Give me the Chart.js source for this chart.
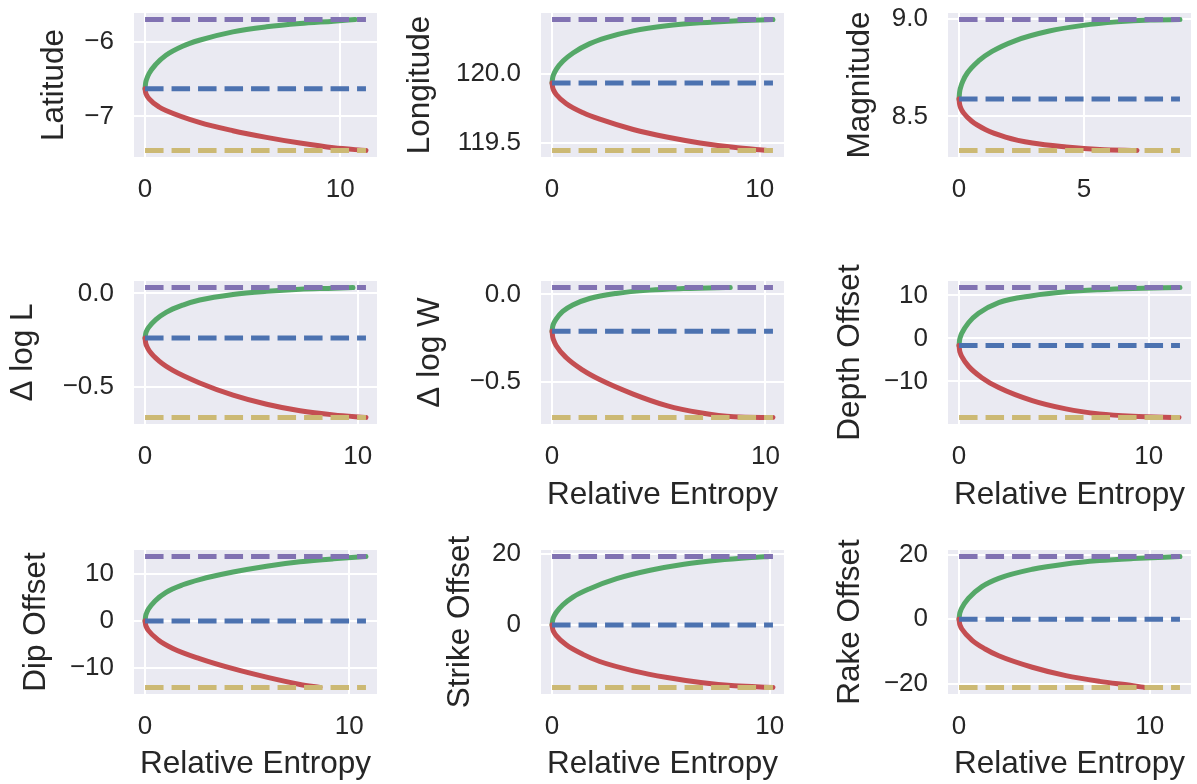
<!DOCTYPE html>
<html>
<head>
<meta charset="utf-8">
<title>Parameter bounds vs relative entropy</title>
<script src="https://cdn.jsdelivr.net/npm/chart.js@4.4.1/dist/chart.umd.min.js"></script>
<style>
  html, body { margin: 0; padding: 0; background: #fff; }
  #fig { position: relative; width: 1197px; height: 784px; overflow: hidden; }
  #fig canvas { position: absolute; }
</style>
</head>
<body>
<div id="fig"></div>
<script>
/* 3x3 grid: upper / lower bound of each source parameter as a function of
 * relative entropy, with dashed reference lines at the start value and at
 * the two extremes reached by the bound curves. */

// ---------- data ----------
const ENTROPY_TICKS = [0, 10];
const ENTROPY_TICKS_MAG = [0, 5];

// Latitude
const LAT_UP_X   = [0, 0.03, 0.08, 0.21, 0.55, 1.07, 1.92, 2.78, 4.50, 6.22, 7.94, 9.66, 10.77];
const LAT_UP_Y   = [-6.628, -6.550, -6.501, -6.423, -6.302, -6.179, -6.058, -5.978, -5.865, -5.798, -5.753, -5.722, -5.700];
const LAT_DOWN_X = [0, 0.03, 0.08, 0.21, 0.72, 1.07, 2.78, 4.50, 6.22, 7.94, 9.66, 11.32];
const LAT_DOWN_Y = [-6.628, -6.680, -6.713, -6.764, -6.874, -6.921, -7.081, -7.192, -7.281, -7.358, -7.421, -7.457];
const LAT_TICKS  = [-7, -6];

// Longitude
const LON_UP_X   = [0, 0.03, 0.08, 0.21, 0.53, 1.01, 1.82, 2.62, 3.91, 5.52, 7.13, 8.74, 10.64];
const LON_UP_Y   = [119.937, 119.975, 119.999, 120.038, 120.097, 120.156, 120.224, 120.268, 120.317, 120.354, 120.376, 120.390, 120.400];
const LON_DOWN_X = [0, 0.03, 0.08, 0.21, 0.69, 1.50, 2.30, 3.91, 5.52, 7.13, 8.74, 10.35];
const LON_DOWN_Y = [119.937, 119.904, 119.883, 119.851, 119.785, 119.719, 119.672, 119.597, 119.542, 119.499, 119.467, 119.444];
const LON_TICKS  = [119.5, 120.0];

// Magnitude
const MAG_UP_X   = [0, 0.02, 0.07, 0.15, 0.33, 0.78, 1.32, 2.26, 3.61, 4.96, 6.31, 7.65, 8.84];
const MAG_UP_Y   = [8.589, 8.623, 8.652, 8.681, 8.723, 8.785, 8.834, 8.890, 8.939, 8.968, 8.986, 8.996, 8.998];
const MAG_DOWN_X = [0, 0.02, 0.07, 0.18, 0.51, 1.05, 1.86, 2.94, 4.29, 5.63, 7.12];
const MAG_DOWN_Y = [8.589, 8.564, 8.543, 8.518, 8.475, 8.433, 8.394, 8.363, 8.343, 8.330, 8.325];
const MAG_TICKS  = [8.5, 9.0];

// Δ log L
const DLL_UP_X   = [0, 0.03, 0.08, 0.16, 0.52, 0.99, 1.78, 2.57, 4.14, 5.72, 7.29, 8.87, 9.78];
const DLL_UP_Y   = [-0.239, -0.215, -0.199, -0.183, -0.139, -0.101, -0.062, -0.035, -0.005, 0.012, 0.023, 0.028, 0.032];
const DLL_DOWN_X = [0, 0.03, 0.08, 0.20, 0.68, 1.31, 2.57, 4.14, 5.72, 7.29, 8.87, 10.39];
const DLL_DOWN_Y = [-0.239, -0.265, -0.282, -0.307, -0.364, -0.412, -0.479, -0.544, -0.593, -0.628, -0.650, -0.664];
const DLL_TICKS  = [-0.5, 0.0];

// Δ log W
const DLW_UP_X   = [0, 0.03, 0.08, 0.19, 0.50, 0.97, 1.76, 3.01, 4.58, 6.15, 7.72, 8.35];
const DLW_UP_Y   = [-0.211, -0.183, -0.165, -0.141, -0.097, -0.060, -0.023, 0.006, 0.025, 0.034, 0.039, 0.040];
const DLW_DOWN_X = [0, 0.03, 0.08, 0.19, 0.66, 1.44, 2.23, 3.80, 5.37, 6.94, 8.51, 10.35];
const DLW_DOWN_Y = [-0.211, -0.243, -0.263, -0.292, -0.361, -0.433, -0.487, -0.570, -0.636, -0.677, -0.700, -0.704];
const DLW_TICKS  = [-0.5, 0.0];

// Depth offset
const DEP_UP_X   = [0, 0.03, 0.07, 0.14, 0.50, 1.03, 2.09, 3.86, 5.63, 7.40, 9.17, 11.65];
const DEP_UP_Y   = [-1.62, -0.32, 0.36, 1.18, 3.66, 5.85, 8.35, 9.95, 10.85, 11.33, 11.62, 11.85];
const DEP_DOWN_X = [0, 0.03, 0.07, 0.14, 0.50, 1.20, 2.09, 3.86, 5.63, 7.40, 9.17, 11.60];
const DEP_DOWN_Y = [-1.62, -2.81, -3.43, -4.18, -6.46, -9.12, -11.42, -14.46, -16.38, -17.54, -18.08, -18.38];
const DEP_TICKS  = [-10, 0, 10];

// Dip offset
const DIP_UP_X   = [0, 0.03, 0.07, 0.16, 0.49, 1.03, 1.85, 2.67, 4.31, 5.95, 7.59, 9.23, 10.82];
const DIP_UP_Y   = [0, 1.07, 1.64, 2.48, 4.27, 6.10, 7.70, 8.80, 10.40, 11.65, 12.57, 13.21, 13.70];
const DIP_DOWN_X = [0, 0.03, 0.07, 0.16, 0.65, 1.36, 2.67, 4.31, 5.95, 7.59, 8.57];
const DIP_DOWN_Y = [0, -0.87, -1.32, -2.00, -4.03, -5.83, -8.00, -10.15, -11.95, -13.50, -14.14];
const DIP_TICKS  = [-10, 0, 10];

// Strike offset
const STR_UP_X   = [0, 0.03, 0.08, 0.19, 0.49, 0.96, 1.73, 2.97, 4.51, 6.06, 7.60, 9.15, 10.00];
const STR_UP_Y   = [0, 1.39, 2.28, 3.51, 5.62, 7.87, 10.24, 13.08, 15.45, 17.16, 18.29, 19.05, 19.34];
const STR_DOWN_X = [0, 0.03, 0.08, 0.19, 0.65, 1.42, 2.19, 3.74, 5.29, 6.83, 8.38, 10.15];
const STR_DOWN_Y = [0, -1.21, -1.98, -3.05, -5.64, -8.34, -10.36, -12.99, -14.88, -16.30, -17.25, -17.70];
const STR_TICKS  = [0, 20];

// Rake offset
const RAK_UP_X   = [0, 0.03, 0.07, 0.14, 0.49, 1.20, 2.08, 3.84, 5.60, 7.36, 9.12, 11.58];
const RAK_UP_Y   = [0, 1.60, 2.45, 3.46, 6.47, 10.10, 12.67, 15.47, 17.13, 18.17, 18.80, 19.42];
const RAK_DOWN_X = [0, 0.03, 0.07, 0.14, 0.67, 1.37, 2.08, 3.84, 5.60, 7.36, 9.12, 9.73];
const RAK_DOWN_Y = [0, -1.36, -2.08, -2.94, -6.43, -9.19, -11.30, -14.85, -17.45, -19.21, -20.56, -21.10];
const RAK_TICKS  = [-20, 0, 20];

// ---------- style ----------
const C_UP = "#55A868", C_DOWN = "#C44E52";
const C_HI = "#8172B2", C_MID = "#4C72B0", C_LO = "#CCB974";
const FACE = "#EAEAF2", INK = "#262626";
const FONT = "'Liberation Sans', Arial, Helvetica, sans-serif";
const TICK_PX = 26, LABEL_PX = 31.5, LW = 5;
const DASH = [18.5, 8];

// column / row placement of the plot areas
const COLS = [{l: 134, r: 377}, {l: 541, r: 784}, {l: 948, r: 1191}];
const ROWS = [{t: 13, b: 157}, {t: 281, b: 424}, {t: 550, b: 694}];
// room reserved above / right of each plot so the tick-label padding
// chart.js asks for never moves the plot edges
const PAD_TOP = 40, PAD_RIGHT = 22;

const PANELS = [
  {ylabel: "Latitude",      ux: LAT_UP_X, uy: LAT_UP_Y, dx: LAT_DOWN_X, dy: LAT_DOWN_Y, yt: LAT_TICKS, dec: 0, xt: ENTROPY_TICKS,     xlabel: false, row: 0, col: 0, cl: 35,  xh: 50},
  {ylabel: "Longitude",     ux: LON_UP_X, uy: LON_UP_Y, dx: LON_DOWN_X, dy: LON_DOWN_Y, yt: LON_TICKS, dec: 1, xt: ENTROPY_TICKS,     xlabel: false, row: 0, col: 1, cl: 401, xh: 50},
  {ylabel: "Magnitude",     ux: MAG_UP_X, uy: MAG_UP_Y, dx: MAG_DOWN_X, dy: MAG_DOWN_Y, yt: MAG_TICKS, dec: 1, xt: ENTROPY_TICKS_MAG, xlabel: false, row: 0, col: 2, cl: 841, xh: 50},
  {ylabel: "\u0394 log L",  ux: DLL_UP_X, uy: DLL_UP_Y, dx: DLL_DOWN_X, dy: DLL_DOWN_Y, yt: DLL_TICKS, dec: 1, xt: ENTROPY_TICKS,     xlabel: false, row: 1, col: 0, cl: 4,   xh: 50},
  {ylabel: "\u0394 log W",  ux: DLW_UP_X, uy: DLW_UP_Y, dx: DLW_DOWN_X, dy: DLW_DOWN_Y, yt: DLW_TICKS, dec: 1, xt: ENTROPY_TICKS,     xlabel: true,  row: 1, col: 1, cl: 411, xh: 90},
  {ylabel: "Depth Offset",  ux: DEP_UP_X, uy: DEP_UP_Y, dx: DEP_DOWN_X, dy: DEP_DOWN_Y, yt: DEP_TICKS, dec: 0, xt: ENTROPY_TICKS,     xlabel: true,  row: 1, col: 2, cl: 831, xh: 90},
  {ylabel: "Dip Offset",    ux: DIP_UP_X, uy: DIP_UP_Y, dx: DIP_DOWN_X, dy: DIP_DOWN_Y, yt: DIP_TICKS, dec: 0, xt: ENTROPY_TICKS,     xlabel: true,  row: 2, col: 0, cl: 17,  xh: 89},
  {ylabel: "Strike Offset", ux: STR_UP_X, uy: STR_UP_Y, dx: STR_DOWN_X, dy: STR_DOWN_Y, yt: STR_TICKS, dec: 0, xt: ENTROPY_TICKS,     xlabel: true,  row: 2, col: 1, cl: 441, xh: 89},
  {ylabel: "Rake Offset",   ux: RAK_UP_X, uy: RAK_UP_Y, dx: RAK_DOWN_X, dy: RAK_DOWN_Y, yt: RAK_TICKS, dec: 0, xt: ENTROPY_TICKS,     xlabel: true,  row: 2, col: 2, cl: 831, xh: 89},
];

// ---------- helpers ----------
const pts = (xs, ys) => xs.map((x, i) => ({x, y: ys[i]}));
const fmt = (v, dec) => v.toFixed(dec).replace("-", "\u2212");

// light axes face behind the grid
const facePlugin = {
  id: "face",
  beforeDraw(chart) {
    const a = chart.chartArea, ctx = chart.ctx;
    ctx.save();
    ctx.fillStyle = FACE;
    ctx.fillRect(a.left, a.top, a.right - a.left, a.bottom - a.top);
    ctx.restore();
  }
};

function curve(data, color) {
  return {data, borderColor: color, borderWidth: LW, pointRadius: 0,
          cubicInterpolationMode: "monotone", borderCapStyle: "round", fill: false};
}
function hline(y, xEnd, color) {
  return {data: [{x: 0, y}, {x: xEnd, y}], borderColor: color, borderWidth: LW,
          pointRadius: 0, borderDash: DASH, borderCapStyle: "butt", fill: false};
}

function drawPanel(p) {
  const up = pts(p.ux, p.uy), down = pts(p.dx, p.dy);
  const mid = p.uy[0];
  const hi = p.uy[p.uy.length - 1], lo = p.dy[p.dy.length - 1];
  const xEnd = Math.max(p.ux[p.ux.length - 1], p.dx[p.dx.length - 1]);
  // 5% margins around the data, like the default autoscale
  const xm = 0.05 * xEnd, ym = 0.05 * (hi - lo);

  const col = COLS[p.col], row = ROWS[p.row];
  const yw = col.l - p.cl;
  const cv = document.createElement("canvas");
  const w = col.r + PAD_RIGHT - p.cl, h = PAD_TOP + (row.b - row.t) + p.xh;
  cv.width = w; cv.height = h;
  cv.style.left = p.cl + "px";
  cv.style.top = (row.t - PAD_TOP) + "px";
  cv.style.width = w + "px"; cv.style.height = h + "px";
  document.getElementById("fig").appendChild(cv);

  const tickFont = {family: FONT, size: TICK_PX};
  const labelFont = {family: FONT, size: LABEL_PX};

  new Chart(cv, {
    type: "line",
    data: {datasets: [
      hline(hi, xEnd, C_HI), hline(mid, xEnd, C_MID), hline(lo, xEnd, C_LO),
      curve(down, C_DOWN), curve(up, C_UP)
    ]},
    options: {
      responsive: false, animation: false, devicePixelRatio: 1,
      layout: {padding: {top: PAD_TOP, right: PAD_RIGHT, left: 0, bottom: 0}},
      plugins: {legend: {display: false}, tooltip: {enabled: false}},
      scales: {
        x: {
          type: "linear", min: -xm, max: xEnd + xm,
          afterFit: s => { s.height = p.xh; },
          afterBuildTicks: s => { s.ticks = p.xt.map(v => ({value: v})); },
          grid: {color: "#ffffff", lineWidth: 2, drawTicks: false},
          border: {display: false},
          ticks: {color: INK, font: tickFont, padding: 17, maxRotation: 0,
                  callback: v => fmt(v, 0)},
          title: {display: p.xlabel, text: "Relative Entropy", color: INK,
                  font: labelFont, padding: 0}
        },
        y: {
          type: "linear", min: lo - ym, max: hi + ym,
          afterFit: s => { s.width = yw; },
          afterBuildTicks: s => { s.ticks = p.yt.map(v => ({value: v})); },
          grid: {color: "#ffffff", lineWidth: 2, drawTicks: false},
          border: {display: false},
          ticks: {color: INK, font: tickFont, padding: 20,
                  callback: v => fmt(v, p.dec)},
          title: {display: true, text: p.ylabel, color: INK,
                  font: labelFont, padding: 0}
        }
      }
    },
    plugins: [facePlugin]
  });
}

PANELS.forEach(drawPanel);
</script>
</body>
</html>
